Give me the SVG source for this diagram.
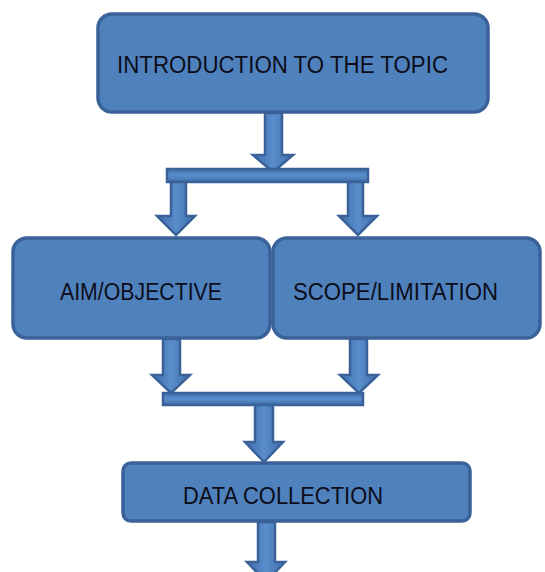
<svg xmlns="http://www.w3.org/2000/svg" width="545" height="572" viewBox="0 0 545 572">
<style>
.box{fill:#4F81BD;stroke:#3A6298;stroke-width:3.5}
.lbl{font-family:"Liberation Sans",Arial,sans-serif;font-size:23px;fill:#0d0d1a;text-anchor:middle}
.arr{fill:url(#ag);stroke:#3A6298;stroke-width:2.5;stroke-linejoin:miter}
.bar{fill:url(#bg);stroke:#3A6298;stroke-width:2.5}
</style>
<defs>
<linearGradient id="ag" x1="0" y1="0" x2="1" y2="0">
<stop offset="0" stop-color="#3F6FAE"/>
<stop offset="0.5" stop-color="#5A8DCB"/>
<stop offset="1" stop-color="#3F6FAE"/>
</linearGradient>
<linearGradient id="bg" x1="0" y1="0" x2="0" y2="1">
<stop offset="0" stop-color="#3F6FAE"/>
<stop offset="0.5" stop-color="#5A8DCB"/>
<stop offset="1" stop-color="#3F6FAE"/>
</linearGradient>
</defs>
<g id="connectors">
<path class="arr" d="M265,113 H282 V155 H293 L273,172 L253,155 H265 Z"/>
<rect class="bar" x="167" y="169" width="201" height="13"/>
<path class="arr" d="M171,182 H186 V216 H195 L176,235 L157,216 H171 Z"/>
<path class="arr" d="M348,182 H363 V216 H377 L358,235 L339,216 H348 Z"/>
<path class="arr" d="M163,339 H180 V375 H190 L171,393 L152,375 H163 Z"/>
<path class="arr" d="M350,339 H367 V375 H378 L359,393 L340,375 H350 Z"/>
<rect class="bar" x="163" y="393" width="200" height="12"/>
<path class="arr" d="M255,405 H273 V442 H283 L264,462 L245,442 H255 Z"/>
<path class="arr" d="M258,522 H275 V562 H285 L266,582 L247,562 H258 Z"/>
</g>
<g id="intro">
<rect class="box" x="98" y="14" width="390" height="98" rx="14"/>
<text class="lbl" x="282.5" y="73" textLength="331" lengthAdjust="spacingAndGlyphs">INTRODUCTION TO THE TOPIC</text>
</g>
<g id="aim">
<rect class="box" x="13" y="238" width="257" height="100" rx="14"/>
<text class="lbl" x="141" y="300" textLength="162" lengthAdjust="spacingAndGlyphs">AIM/OBJECTIVE</text>
</g>
<g id="scope">
<rect class="box" x="273" y="238" width="267" height="100" rx="14"/>
<text class="lbl" x="395.5" y="300" textLength="205" lengthAdjust="spacingAndGlyphs">SCOPE/LIMITATION</text>
</g>
<g id="data">
<rect class="box" x="123" y="463" width="347" height="58" rx="8"/>
<text class="lbl" x="283" y="504" textLength="200" lengthAdjust="spacingAndGlyphs">DATA COLLECTION</text>
</g>
</svg>
